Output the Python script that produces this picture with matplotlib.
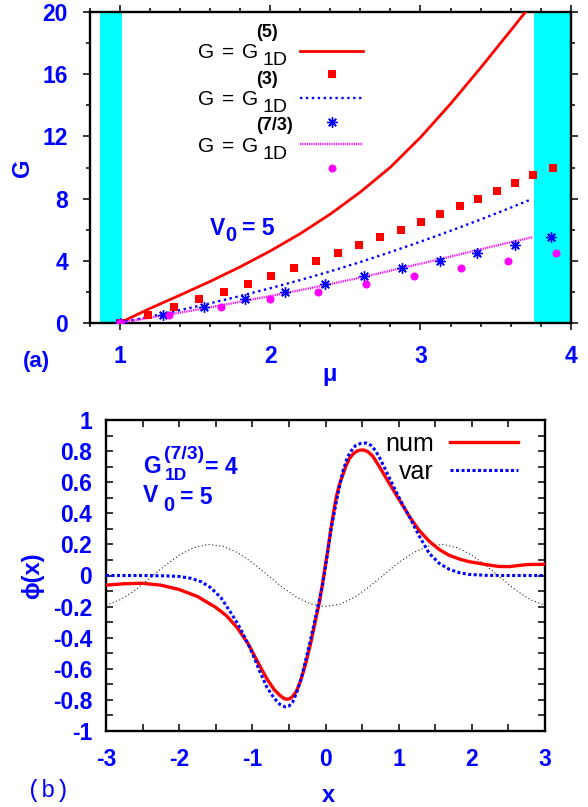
import matplotlib
matplotlib.use('Agg')
import matplotlib.pyplot as plt
from matplotlib.ticker import FixedLocator, MultipleLocator
from matplotlib.lines import Line2D

plt.rcParams['font.family'] = ['Liberation Sans', 'DejaVu Sans']

# ---------------- data: panel (a) ----------------
mu_g5 = [1.0, 1.2, 1.4, 1.6, 1.8, 2.0, 2.2, 2.4, 2.6, 2.8, 3.0, 3.2, 3.4, 3.6, 3.72]
g_g5 = [0.0, 0.92, 1.78, 2.66, 3.60, 4.62, 5.74, 7.00, 8.42, 10.02, 11.94, 14.10, 16.42,
        18.82, 20.28]

mu_g3 = [1.0, 1.2, 1.4, 1.6, 1.8, 2.0, 2.2, 2.4, 2.6, 2.8, 3.0, 3.2, 3.4, 3.6, 3.74]
g_g3 = [0.0, 0.39, 0.81, 1.25, 1.72, 2.22, 2.75, 3.31, 3.91, 4.55, 5.22, 5.92, 6.65, 7.41, 7.96]

mu_g73 = [1.0, 1.2, 1.4, 1.6, 1.8, 2.0, 2.2, 2.4, 2.6, 2.8, 3.0, 3.2, 3.4, 3.6, 3.75]
g_g73 = [0.0, 0.32, 0.65, 0.99, 1.35, 1.72, 2.10, 2.49, 2.91, 3.35, 3.80, 4.26, 4.73, 5.19, 5.52]

sq_mu = [1.0, 1.189, 1.356, 1.527, 1.693, 1.851, 2.007, 2.16, 2.304, 2.451, 2.593,
         2.733, 2.871, 3.004, 3.133, 3.26, 3.384, 3.507, 3.631, 3.751, 3.884]
sq_g = [0.0, 0.5, 1.0, 1.5, 2.0, 2.5, 3.0, 3.5, 4.0, 4.5, 5.0,
        5.5, 6.0, 6.5, 7.0, 7.5, 8.0, 8.5, 9.0, 9.5, 10.0]

ast_mu = [1.0, 1.289, 1.562, 1.833, 2.1, 2.367, 2.622, 2.878, 3.129, 3.378, 3.627, 3.871]
ast_g = [0.0, 0.5, 1.0, 1.5, 2.0, 2.5, 3.0, 3.5, 4.0, 4.5, 5.0, 5.5]

circ_mu = [1.0, 1.327, 1.671, 1.996, 2.32, 2.64, 2.96, 3.273, 3.585, 3.905]
circ_g = [0.0, 0.5, 1.0, 1.5, 2.0, 2.5, 3.0, 3.5, 4.0, 4.5]

cyan_bands = [(0.865, 1.015), (3.755, 4.0)]

mu_ticks = [1, 2, 3, 4]
mu_ticklabels = ['1', '2', '3', '4']
g_ticks = [0, 4, 8, 12, 16, 20]
g_ticklabels = ['0', '4', '8', '12', '16', '20']
key_sups = ['(5)', '(3)', '(7/3)']

# ---------------- data: panel (b) ----------------
num_x = [-3.0, -2.75, -2.5, -2.25, -2.0, -1.75, -1.5, -1.35, -1.2, -1.05, -0.9, -0.8, -0.7,
         -0.62, -0.57, -0.53, -0.49, -0.45, -0.4, -0.35, -0.3, -0.264, -0.2, -0.15, -0.08,
         -0.04, 0.0, 0.04, 0.08, 0.145, 0.19, 0.236, 0.28, 0.33, 0.38, 0.43, 0.48, 0.53,
         0.58, 0.645, 0.73, 0.827, 0.92, 1.01, 1.146, 1.28, 1.418, 1.555, 1.69, 1.83,
         1.96, 2.10, 2.24, 2.37, 2.51, 2.65, 2.78, 3.0]
num_y = [-0.062, -0.053, -0.05, -0.062, -0.09, -0.135, -0.205, -0.26, -0.34, -0.445, -0.58,
         -0.665, -0.735, -0.772, -0.790, -0.796, -0.792, -0.778, -0.747, -0.69, -0.615,
         -0.554, -0.43, -0.318, -0.165, -0.05, 0.07, 0.19, 0.32, 0.50, 0.585, 0.646, 0.705,
         0.755, 0.783, 0.800, 0.807, 0.806, 0.796, 0.768, 0.705, 0.628, 0.555, 0.485, 0.38,
         0.29, 0.22, 0.167, 0.13, 0.106, 0.089, 0.078, 0.067, 0.058, 0.057, 0.065, 0.071,
         0.072]

var_x = [-3.0, -2.5, -2.2, -2.0, -1.84, -1.7, -1.57, -1.43, -1.3, -1.2, -1.1, -1.0, -0.9,
         -0.8, -0.7, -0.62, -0.55, -0.5, -0.45, -0.4, -0.33, -0.264, -0.2, -0.15, -0.09,
         -0.036, 0.02, 0.077, 0.15, 0.236, 0.3, 0.373, 0.42, 0.48, 0.555, 0.62, 0.68, 0.736,
         0.8, 0.85, 0.964, 1.05, 1.146, 1.28, 1.418, 1.555, 1.69, 1.83, 1.96, 2.2, 2.5, 3.0]
var_y = [0.0, 0.0, -0.002, -0.006, -0.018, -0.04, -0.078, -0.142, -0.235, -0.31, -0.40,
         -0.50, -0.615, -0.72, -0.79, -0.83, -0.845, -0.84, -0.815, -0.76, -0.66, -0.53,
         -0.405, -0.297, -0.17, -0.05, 0.12, 0.30, 0.48, 0.668, 0.76, 0.818, 0.838, 0.849,
         0.852, 0.838, 0.805, 0.76, 0.70, 0.65, 0.54, 0.46, 0.378, 0.255, 0.142, 0.078, 0.04,
         0.018, 0.007, 0.001, 0.0, 0.0]

pot_x = [-3.0, -2.8, -2.6, -2.4, -2.2, -2.0, -1.8, -1.6, -1.4, -1.2, -1.0, -0.8, -0.6, -0.4,
         -0.2, 0.0, 0.2, 0.4, 0.6, 0.8, 1.0, 1.2, 1.4, 1.6, 1.8, 2.0, 2.2, 2.4, 2.6, 2.8, 3.0]
pot_y = [-0.192, -0.155, -0.094, -0.017, 0.061, 0.131, 0.179, 0.2, 0.188, 0.147, 0.083,
         0.006, -0.072, -0.139, -0.184, -0.2, -0.184, -0.139, -0.072, 0.006, 0.083, 0.147,
         0.188, 0.2, 0.179, 0.131, 0.061, -0.017, -0.094, -0.155, -0.192]

x_ticks = [-3, -2, -1, 0, 1, 2, 3]
x_ticklabels = ['-3', '-2', '-1', '0', '1', '2', '3']
phi_ticks = [-1, -0.8, -0.6, -0.4, -0.2, 0, 0.2, 0.4, 0.6, 0.8, 1]
phi_ticklabels = ['-1', '-0.8', '-0.6', '-0.4', '-0.2', '0', '0.2', '0.4', '0.6', '0.8', '1']
legend_labels_b = ['num', 'var']

# ---------------- styles ----------------
W, H = 588, 807
BLUE = '#0000ff'
RED = '#ff0000'
MAG = '#ff00ff'
CYAN = '#00ffff'
TICKFS = 16.5
AST = dict(ls='none', marker=(8, 2, 0), color=BLUE, ms=7.5, mew=1.0)
SQ = dict(ls='none', marker='s', color=RED, ms=5.8, mew=0)
CI = dict(ls='none', marker='o', color=MAG, ms=5.8, mew=0)
L5 = dict(color=RED, lw=2.0)
L3 = dict(color=BLUE, lw=1.7, ls=(0, (1, 1.5)))
L73 = dict(color=MAG, lw=1.7, ls=(0, (0.5, 0.45)))

fig = plt.figure(figsize=(W / 100, H / 100), dpi=100)


def px_text(x, yc, s, size, weight='bold', color=BLUE, **kw):
    """Place text with left edge x (px) and visual cap-centre yc (px from top)."""
    base = yc + 0.36 * size * 100 / 72
    return fig.text(x / W, 1 - base / H, s, fontsize=size, fontweight=weight,
                    color=color, ha='left', va='baseline', **kw)


def style_ticklabels(ax):
    for lab in ax.get_xticklabels() + ax.get_yticklabels():
        lab.set_fontweight('bold')
        lab.set_fontsize(TICKFS)
        lab.set_color(BLUE)


def fx(x):
    return x / W


def fy(y):
    return 1 - y / H


# ================= panel (a) =================
ax1 = fig.add_axes([90 / W, 1 - 322.7 / H, 480.7 / W, 310.4 / H])
for lo, hi in cyan_bands:
    ax1.axvspan(lo, hi, color=CYAN, lw=0, zorder=0)

ax1.plot(mu_g5, g_g5, zorder=3, **L5)
ax1.plot(sq_mu, sq_g, zorder=4, **SQ)
ax1.plot(mu_g3, g_g3, zorder=3, **L3)
ax1.plot(ast_mu, ast_g, zorder=5, **AST)
ax1.plot(mu_g73, g_g73, zorder=3, **L73)
ax1.plot(circ_mu, circ_g, zorder=6, **CI)

ax1.set_xlim(0.8, 4.0)
ax1.set_ylim(0, 20)
ax1.xaxis.set_major_locator(FixedLocator(mu_ticks))
ax1.set_xticklabels(mu_ticklabels)
ax1.xaxis.set_minor_locator(MultipleLocator(0.2))
ax1.yaxis.set_major_locator(FixedLocator(g_ticks))
ax1.set_yticklabels(g_ticklabels)
ax1.yaxis.set_minor_locator(MultipleLocator(2))
ax1.tick_params(which='both', direction='out', top=True, right=True, width=1.1,
                color='black')
ax1.tick_params(which='major', length=5)
ax1.tick_params(which='minor', length=3.2)
ax1.tick_params(axis='y', which='major', pad=10.8)
ax1.tick_params(axis='x', which='major', pad=11)
style_ticklabels(ax1)
for sp in ax1.spines.values():
    sp.set_linewidth(1.7)

# gnuplot-style key for panel (a): labelled line rows with marker rows between
key_x0, key_x1, key_xm = 300, 363, 331.7
key_rows = [50.7, 74.0, 97.7, 121.7, 144.3, 167.7]
key_lines = [L5, L3, L73]
key_marks = [SQ, AST, CI]
for i in range(3):
    yl = key_rows[2 * i]
    ym = key_rows[2 * i + 1]
    fig.add_artist(Line2D([fx(key_x0), fx(key_x1)], [fy(yl)] * 2, **key_lines[i]))
    fig.add_artist(Line2D([fx(key_xm)], [fy(ym)], **key_marks[i]))
    px_text(198, yl, 'G', 15, weight='normal', color='black')
    px_text(222, yl, '=', 15, weight='normal', color='black')
    px_text(242, yl, 'G', 15, weight='normal', color='black')
    px_text(256, yl - 20.5, key_sups[i], 13, weight='bold', color='black')
    px_text(262, yl + 7.6, '1D', 14, weight='normal', color='black')

# V0 = 5 annotation (a)
px_text(210, 226.7, 'V', 16.5)
px_text(225, 234, '0', 14.5)
px_text(241.7, 226.7, '= 5', 16.5)

# axis labels (a)
fig.text(22 / W, 1 - 168 / H, 'G', rotation=90, ha='center', va='center',
         fontsize=17, fontweight='bold', color=BLUE)
fig.text(330 / W, 1 - 374 / H, 'μ', ha='center', va='center',
         fontsize=17, fontweight='bold', color=BLUE)
fig.text(36 / W, 1 - 362 / H, '(a)', ha='center', va='center',
         fontsize=16, fontweight='bold', color=BLUE)

# ================= panel (b) =================
ax2 = fig.add_axes([106 / W, 1 - 731 / H, 439 / W, 311 / H])
ax2.plot(pot_x, pot_y, color='#222222', lw=0.8, ls=(0, (1, 2.2)), zorder=2)
l_num, = ax2.plot(num_x, num_y, color=RED, lw=2.4, zorder=3)
l_var, = ax2.plot(var_x, var_y, color=BLUE, lw=2.2, ls=(0, (1, 0.8)), zorder=4)

ax2.set_xlim(-3, 3)
ax2.set_ylim(-1, 1)
ax2.xaxis.set_major_locator(FixedLocator(x_ticks))
ax2.set_xticklabels(x_ticklabels)
ax2.xaxis.set_minor_locator(MultipleLocator(0.5))
ax2.yaxis.set_major_locator(FixedLocator(phi_ticks))
ax2.set_yticklabels(phi_ticklabels)
ax2.yaxis.set_minor_locator(MultipleLocator(0.1))
ax2.tick_params(which='both', direction='in', top=True, right=True, width=1.1,
                length=5, color='black')
ax2.tick_params(axis='y', which='major', pad=10)
ax2.tick_params(axis='x', which='major', pad=12)
style_ticklabels(ax2)
for sp in ax2.spines.values():
    sp.set_linewidth(1.7)

ax2.legend([l_num, l_var], legend_labels_b, loc='upper right',
           bbox_to_anchor=(0.9385, 0.962), frameon=False, fontsize=18,
           markerfirst=False, handlelength=2.72, handletextpad=0.64,
           labelspacing=0.15, borderpad=0, borderaxespad=0)

# annotation (b)
px_text(143.3, 465, 'G', 16.5)
px_text(164, 452.5, '(7/3)', 14)
px_text(165, 474, '1D', 12.5)
px_text(205, 466, '= 4', 16.5)
px_text(143, 494, 'V', 16.5)
px_text(163, 504, '0', 14.5)
px_text(180, 496, '= 5', 16.5)

# axis labels (b)
fig.text(33 / W, 1 - 576 / H, 'ϕ(x)', rotation=90, ha='center', va='center',
         fontsize=17, fontweight='bold', color=BLUE)
fig.text(328 / W, 1 - 795 / H, 'x', ha='center', va='center',
         fontsize=17, fontweight='bold', color=BLUE)
fig.text(48 / W, 1 - 790 / H, '(b)', ha='center', va='center',
         fontsize=17, family='Liberation Mono', color=BLUE)

fig.savefig('out.png', dpi=100)
